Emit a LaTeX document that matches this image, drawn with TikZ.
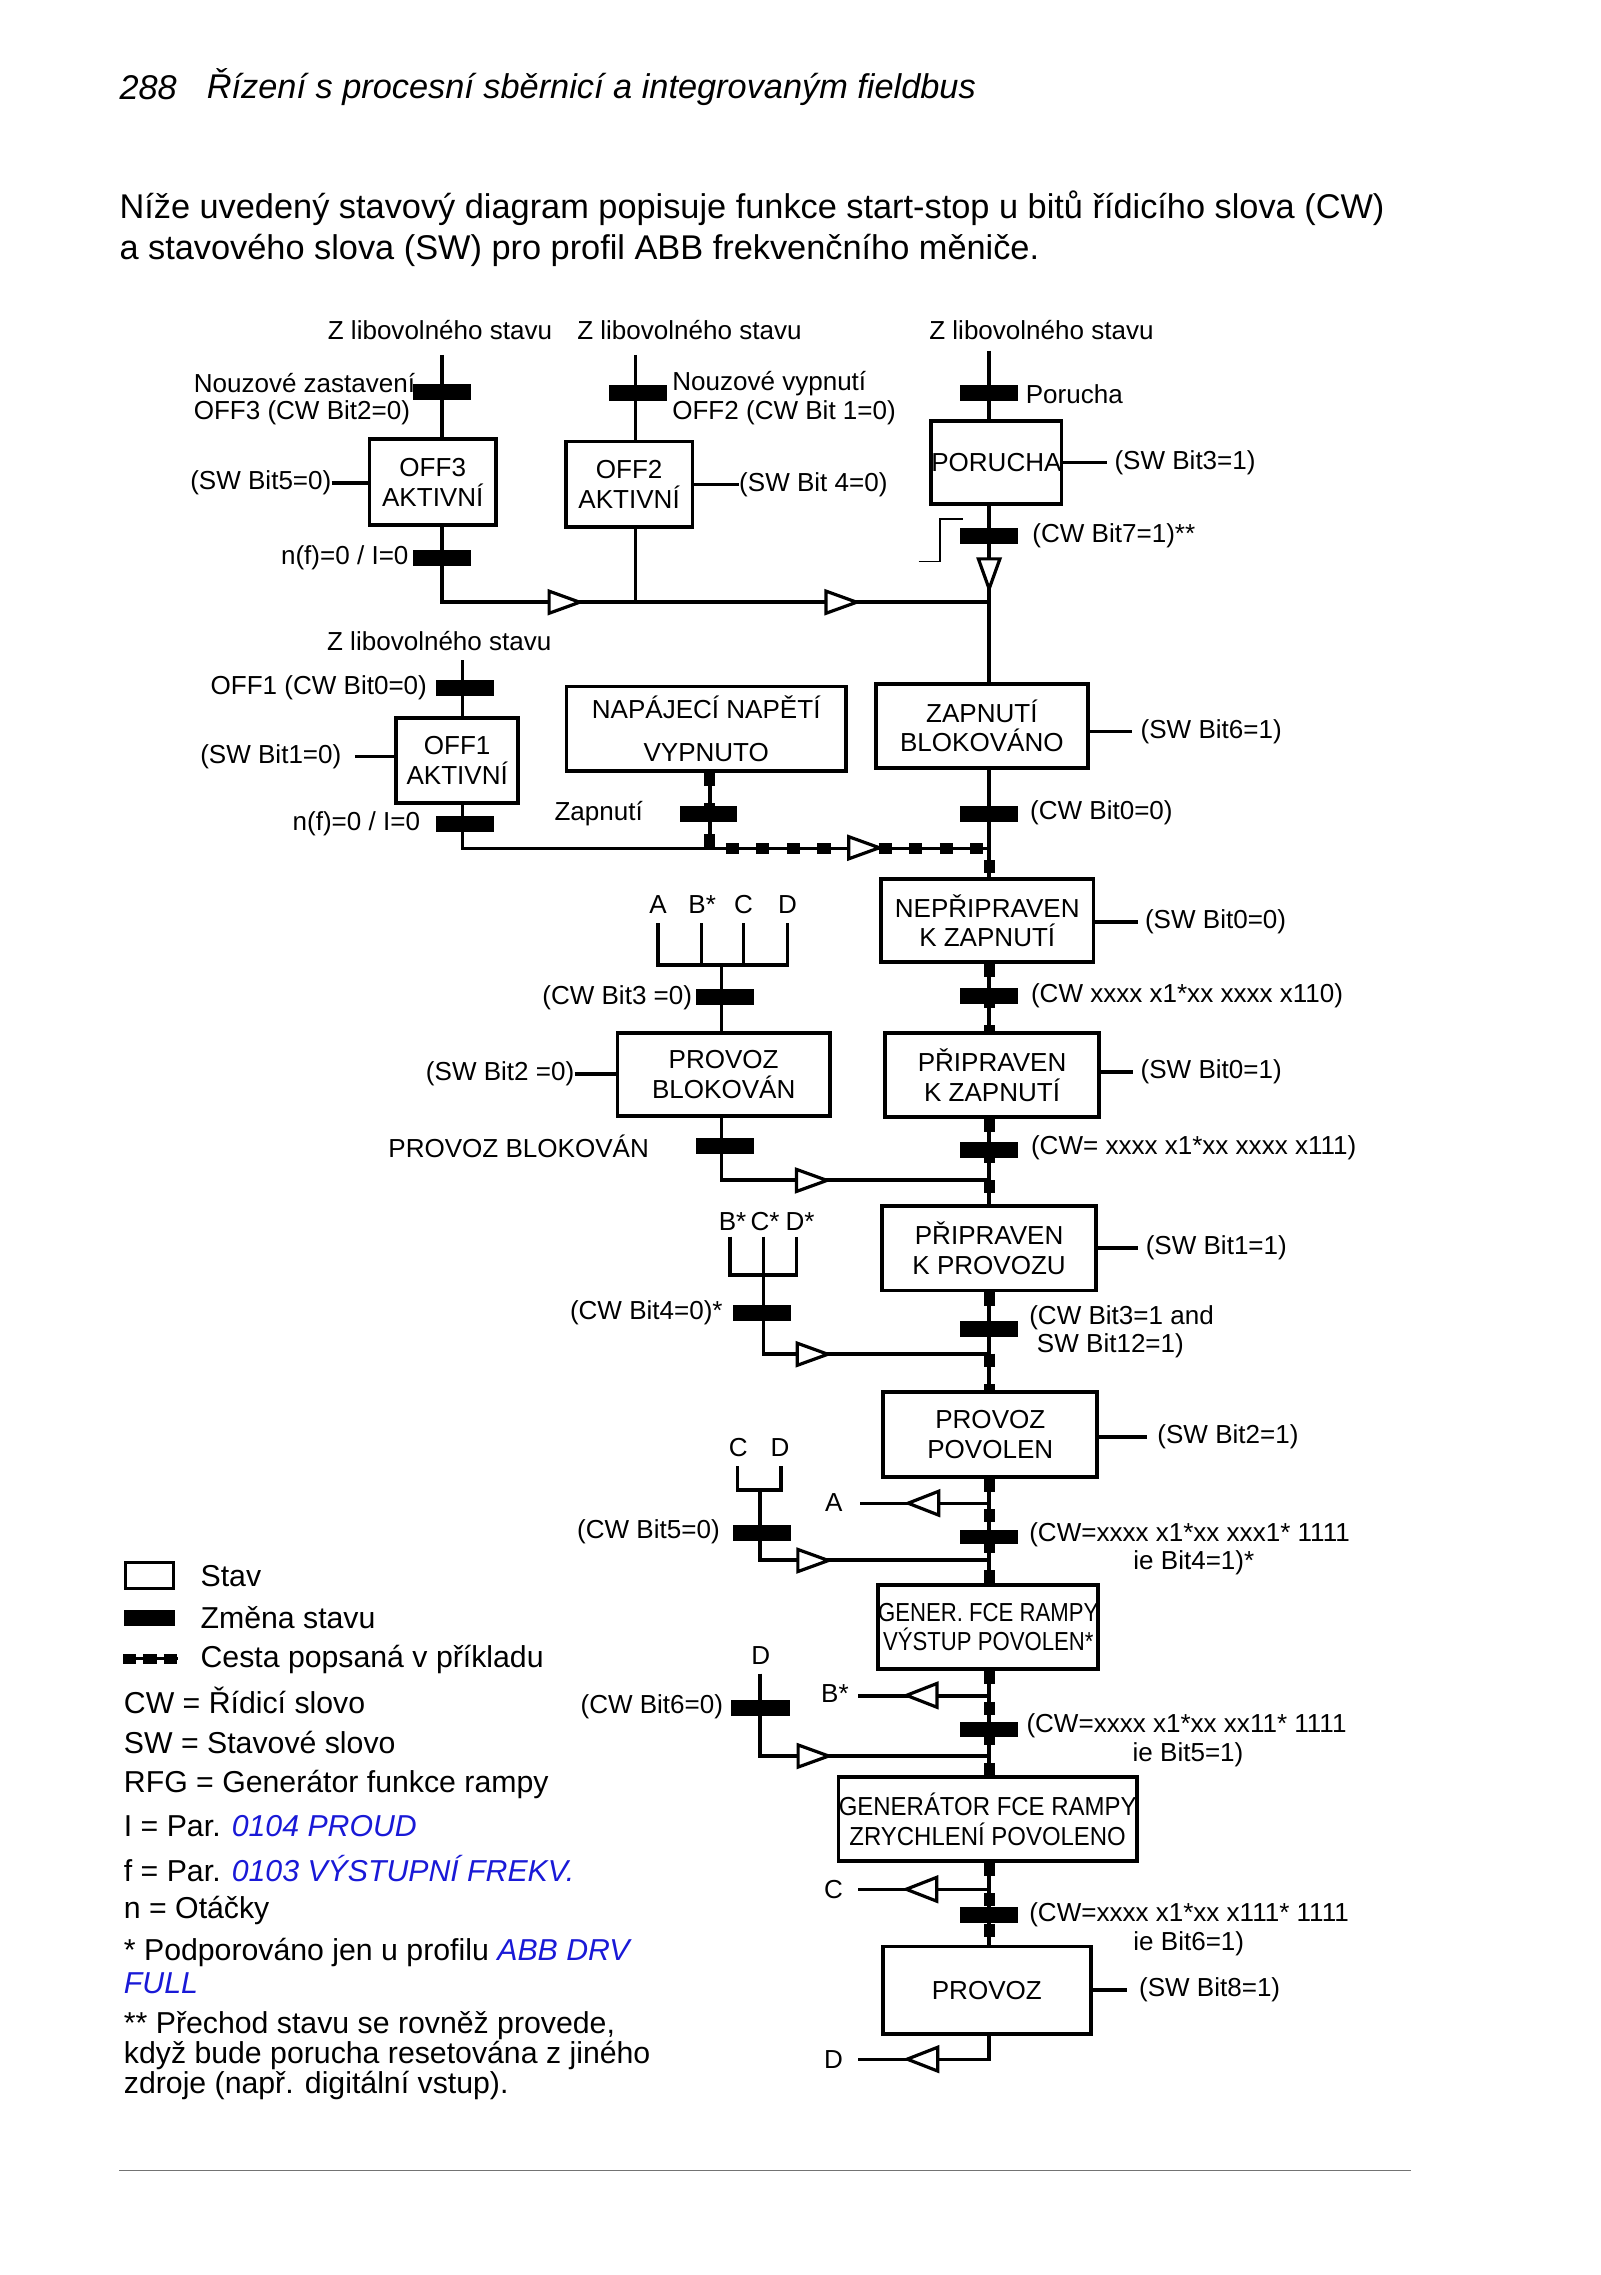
\documentclass[tikz,border=0pt]{standalone}
\usepackage{fontspec}
\setmainfont{Liberation Sans}
\newfontfamily\narrowA[FakeStretch=0.85]{Liberation Sans}
\newfontfamily\narrowB[FakeStretch=0.92]{Liberation Sans}
\definecolor{lnk}{RGB}{25,25,215}
\newcommand\dgfont{\fontsize{17.9}{20.5}\selectfont}
\newcommand\lgfont{\fontsize{20.8}{25}\selectfont}
\newcommand\hdfont{\fontsize{23.6}{29}\selectfont}
\begin{document}
\begin{tikzpicture}[x=1pt,y=-1pt,
  wire/.style={line width=2.4pt},
  exdash/.style={line width=7.5pt, dash pattern=on 9pt off 12pt},
  state/.style={draw, line width=2.6pt, inner sep=0pt, align=center, font=\dgfont},
  bar/.style={fill=black, inner sep=0pt, minimum width=40pt, minimum height=11pt},
  lbl/.style={inner sep=0pt, font=\dgfont},
  lg/.style={inner sep=0pt, anchor=west, font=\lgfont},
  rtri/.pic={\draw[line width=2.2pt, fill=white, line join=miter] (-10.5,-7.6) -- (10.5,0) -- (-10.5,7.6) -- cycle;},
  ltri/.pic={\draw[line width=2.2pt, fill=white, line join=miter] (10.5,-8.2) -- (-10.5,0) -- (10.5,8.2) -- cycle;},
  dtri/.pic={\draw[line width=2.2pt, fill=white, line join=miter] (-7.4,-10.3) -- (0,10.3) -- (7.4,-10.3) -- cycle;}
]
\fill[white] (0,0) rectangle (1100,1564);
\path[use as bounding box] (0,0) rectangle (1100,1564);

% ---------- header and intro ----------
\node[inner sep=0pt, anchor=west, font=\hdfont\itshape] (hnum) at (82,60) {288};
\node[inner sep=0pt, anchor=west, font=\hdfont\itshape] (htitle) at (142,60) {Řízení s procesní sběrnicí a integrovaným fieldbus};
\node[inner sep=0pt, anchor=west, font=\hdfont] (intro1) at (82,143) {Níže uvedený stavový diagram popisuje funkce start-stop u bitů řídicího slova (CW)};
\node[inner sep=0pt, anchor=west, font=\hdfont] (intro2) at (82,172) {a stavového slova (SW) pro profil ABB frekvenčního měniče.};

% ---------- top labels ----------
\node[lbl] (z1) at (302.5,227) {Z libovolného stavu};
\node[lbl] (z2) at (474,227) {Z libovolného stavu};
\node[lbl] (z3) at (716,227) {Z libovolného stavu};

% ---------- column OFF3 ----------
\coordinate (c1top) at (304,244);
\node[state, minimum width=87pt, minimum height=59pt] (off3) at (297.5,331.5) {OFF3\\AKTIVNÍ};
\coordinate (c1bot) at (304,413.7);
\coordinate (hj3) at (680,413.7);
\draw[wire] (c1top) -- (c1top |- off3.north);
\draw[wire] (c1top |- off3.south) -- (c1bot) -- (hj3);
\node[bar] (b31) at (304,269.5) {};
\node[bar] (b32) at (304,383.6) {};
\node[lbl, anchor=west] (lnz) at (133,263.5) {Nouzové zastavení};
\node[lbl, anchor=west] (loff3) at (133,284) {OFF3 (CW Bit2=0)};
\node[lbl, anchor=east] (lsw5) at (228,332) {(SW Bit5=0)};
\draw[wire] (lsw5.east) -- (off3.west |- lsw5.east);
\node[lbl, anchor=east] (lnf1) at (281,383.6) {n(f)=0 / I=0};

% ---------- column OFF2 ----------
\coordinate (c2top) at (437,244);
\coordinate (c2bot) at (437,413.7);
\node[state, minimum width=87pt, minimum height=59pt] (off2) at (432.5,333) {OFF2\\AKTIVNÍ};
\draw[wire] (c2top) -- (c2top |- off2.north);
\draw[wire] (c2top |- off2.south) -- (c2bot);
\node[bar] (b21) at (438.6,270) {};
\node[lbl, anchor=west] (lnv) at (462,263.5) {Nouzové vypnutí};
\node[lbl, anchor=west] (loff2) at (462,284) {OFF2 (CW Bit 1=0)};
\node[lbl, anchor=west] (lsw4) at (508,333) {(SW Bit 4=0)};
\draw[wire] (off2.east |- lsw4.west) -- (lsw4.west);

% ---------- column PORUCHA ----------
\coordinate (c3top) at (680,241);
\node[state, minimum width=86pt, minimum height=57pt] (por) at (685,318) {PORUCHA};
\node[state, minimum width=146pt, minimum height=58pt] (zap) at (675,499) {ZAPNUTÍ\\BLOKOVÁNO};
\coordinate (j583) at (680,583.3);
\draw[wire] (c3top) -- (c3top |- por.north);
\draw[wire] (c3top |- por.south) -- (c3top |- zap.north);
\draw[wire] (c3top |- zap.south) -- (j583);
\node[bar] (b11) at (680,270.5) {};
\node[bar] (b12) at (680,368.5) {};
\node[lbl, anchor=west] (lpor) at (705,271) {Porucha};
\node[lbl, anchor=west] (lsw3) at (766,318) {(SW Bit3=1)};
\draw[wire] (por.east |- lsw3.west) -- ([xshift=-5pt]lsw3.west);
\node[lbl, anchor=west] (lcw7) at (709.6,368) {(CW Bit7=1)**};
\coordinate (st1) at (631.6,386);
\coordinate (st2) at (646,386);
\coordinate (st3) at (646,356.8);
\coordinate (st4) at (662,356.8);
\draw[line width=1.3pt] (st1) -- (st2) -- (st3) -- (st4);
\pic at (680,394.5) {dtri};
\pic at (388,414) {rtri};
\pic at (578.4,414) {rtri};

\node[lbl, anchor=west] (lsw6) at (784,503) {(SW Bit6=1)};
\draw[wire] (zap.east |- lsw6.west) -- ([xshift=-6pt]lsw6.west);
\node[bar] (bcw0) at (680,559.6) {};
\node[lbl, anchor=west] (lcw0) at (708,559) {(CW Bit0=0)};

% ---------- column OFF1 ----------
\node[lbl] (z4) at (302,440.5) {Z libovolného stavu};
\coordinate (c4top) at (318,453.8);
\node[state, minimum width=84pt, minimum height=58pt] (off1) at (314.3,522.8) {OFF1\\AKTIVNÍ};
\coordinate (c4bot) at (318,583.3);
\coordinate (jnap) at (488,583.3);
\draw[wire] (c4top) -- (c4top |- off1.north);
\draw[wire] (c4top |- off1.south) -- (c4bot) -- (jnap);
\node[bar] (b41) at (319.5,473) {};
\node[bar] (b42) at (319.5,566.5) {};
\node[lbl, anchor=west] (loff1) at (144.6,473) {OFF1 (CW Bit0=0)};
\node[lbl, anchor=west] (lsw1) at (137.5,520) {(SW Bit1=0)};
\draw[wire] ([xshift=9pt]lsw1.east) -- (off1.west |- lsw1.east);
\node[lbl, anchor=west] (lnf2) at (201,566) {n(f)=0 / I=0};

% ---------- NAPAJECI ----------
\node[state, minimum width=192pt, minimum height=58pt, font=\fontsize{17.9}{30}\selectfont] (nap) at (485.5,501) {NAPÁJECÍ NAPĚTÍ\\VYPNUTO};
\node[lbl, anchor=west] (lzapn) at (381,559) {Zapnutí};

% ---------- main chain ----------
\node[state, minimum width=146pt, minimum height=57pt] (nep) at (678.7,633) {NEPŘIPRAVEN\\K ZAPNUTÍ};
\node[state, minimum width=147pt, minimum height=58pt] (pzap) at (682,739) {PŘIPRAVEN\\K ZAPNUTÍ};
\node[state, minimum width=147pt, minimum height=58pt] (pprov) at (680,858.2) {PŘIPRAVEN\\K PROVOZU};
\node[state, minimum width=147pt, minimum height=58pt] (ppov) at (680.8,986.2) {PROVOZ\\POVOLEN};
\node[state, minimum width=147pt, minimum height=58pt, font=\narrowA\fontsize{17.9}{19.5}\selectfont] (gen1) at (679.4,1118.6) {GENER. FCE RAMPY\\VÝSTUP POVOLEN*};
\node[state, minimum width=205pt, minimum height=57.5pt, font=\narrowB\fontsize{17.9}{20.7}\selectfont] (gen2) at (679,1250.5) {GENERÁTOR FCE RAMPY\\ZRYCHLENÍ POVOLENO};
\node[state, minimum width=143pt, minimum height=60pt] (prov) at (678.4,1368.2) {PROVOZ};

% example path (dashed)
\foreach \p in {wire, exdash}{
  \draw[\p] (jnap |- nap.south) -- (jnap) -- (j583) -- (j583 |- nep.north);
  \draw[\p] (j583 |- nep.south) -- (j583 |- pzap.north);
  \draw[\p] (j583 |- pzap.south) -- (j583 |- pprov.north);
  \draw[\p] (j583 |- pprov.south) -- (j583 |- ppov.north);
  \draw[\p] (j583 |- ppov.south) -- (j583 |- gen1.north);
  \draw[\p] (j583 |- gen1.south) -- (j583 |- gen2.north);
  \draw[\p] (j583 |- gen2.south) -- (j583 |- prov.north);
}
\node[bar, minimum width=39pt] (bzap) at (487,559.6) {};
\pic at (594,582.8) {rtri};

% labels on the main chain
\node[lbl, anchor=west] (lsw00) at (787,634) {(SW Bit0=0)};
\draw[wire] (nep.east |- lsw00.west) -- ([xshift=-5pt]lsw00.west);
\node[bar] (b110) at (680,684.5) {};
\node[lbl, anchor=west] (l110) at (708.6,684.5) {(CW xxxx x1*xx xxxx x110)};
\node[lbl, anchor=west] (lsw01) at (784,737) {(SW Bit0=1)};
\draw[wire] (pzap.east |- lsw01.west) -- ([xshift=-5pt]lsw01.west);
\node[bar] (b111) at (680,790.3) {};
\node[lbl, anchor=west] (l111) at (708.6,789) {(CW= xxxx x1*xx xxxx x111)};
\node[lbl, anchor=west] (lsw1b) at (787.5,858) {(SW Bit1=1)};
\draw[wire] (pprov.east |- lsw1b.west) -- ([xshift=-5pt]lsw1b.west);
\node[bar] (bb3) at (680,913.6) {};
\node[lbl, anchor=west] (lb3a) at (707.4,906) {(CW Bit3=1 and};
\node[lbl, anchor=west] (lb3b) at (712.7,925.4) {SW Bit12=1)};
\node[lbl, anchor=west] (lsw2b) at (795.5,988) {(SW Bit2=1)};
\draw[wire] (ppov.east |- lsw2b.west) -- ([xshift=-7pt]lsw2b.west);
\node[bar, minimum height=10pt] (bb4) at (680,1056.5) {};
\node[lbl, anchor=west] (lb4a) at (707.4,1055.3) {(CW=xxxx x1*xx xxx1* 1111};
\node[lbl, anchor=west] (lb4b) at (779,1074.4) {ie Bit4=1)*};
\node[bar, minimum height=10.5pt] (bb5) at (680,1188.9) {};
\node[lbl, anchor=west] (lb5a) at (705.5,1186.6) {(CW=xxxx x1*xx xx11* 1111};
\node[lbl, anchor=west] (lb5b) at (778.5,1206.6) {ie Bit5=1)};
\node[bar] (bb6) at (680,1316.8) {};
\node[lbl, anchor=west] (lb6a) at (707.4,1316) {(CW=xxxx x1*xx x111* 1111};
\node[lbl, anchor=west] (lb6b) at (779,1336) {ie Bit6=1)};
\node[lbl, anchor=west] (lsw8) at (782.9,1368.2) {(SW Bit8=1)};
\draw[wire] (prov.east |- lsw8.west) -- ([xshift=-8pt]lsw8.west);

% return branches A, B*, C, D
\node[lbl] (rA) at (573.3,1033) {A};
\coordinate (jA) at (680,1033.6);
\coordinate (eA) at (591.3,1033.6);
\draw[wire] (jA) -- (eA);
\pic at (634.8,1033.4) {ltri};
\node[lbl] (rB) at (574,1164.2) {B*};
\coordinate (jB) at (680,1166);
\coordinate (eB) at (590,1166);
\draw[wire] (jB) -- (eB);
\pic at (633.7,1165.5) {ltri};
\node[lbl] (rC) at (573,1299) {C};
\coordinate (jC) at (680,1299);
\coordinate (eC) at (590,1299);
\draw[wire] (jC) -- (eC);
\pic at (633.5,1298.8) {ltri};
\node[lbl] (rD) at (573,1415.8) {D};
\coordinate (jD) at (680,1415.8);
\coordinate (eD) at (590,1415.8);
\draw[wire] (j583 |- prov.south) -- (jD) -- (eD);
\pic at (634.2,1415.6) {ltri};

% ---------- PROVOZ BLOKOVAN branch ----------
\node[lbl] (kA) at (452.4,622) {A};
\node[lbl] (kB) at (482.7,622) {B*};
\node[lbl] (kC) at (511.1,622) {C};
\node[lbl] (kD) at (541.4,622) {D};
\coordinate (kA1) at (452.4,634.7); \coordinate (kA2) at (452.4,663.5);
\coordinate (kB1) at (482.2,634.7); \coordinate (kB2) at (482.2,663.5);
\coordinate (kC1) at (511.1,634.7); \coordinate (kC2) at (511.1,663.5);
\coordinate (kD1) at (541.4,634.7); \coordinate (kD2) at (541.4,663.5);
\draw[wire] (kA1) -- (kA2) -- (kD2) -- (kD1);
\draw[wire] (kB1) -- (kB2);
\draw[wire] (kC1) -- (kC2);
\node[state, minimum width=146pt, minimum height=57.5pt] (pblok) at (497.5,738.7) {PROVOZ\\BLOKOVÁN};
\coordinate (kc) at (496,663.5);
\coordinate (kbot) at (496,811.3);
\coordinate (kj) at (680,811.3);
\draw[wire] (kc) -- (kc |- pblok.north);
\draw[wire] (kc |- pblok.south) -- (kbot) -- (kj);
\node[bar] (bb3z) at (498.3,685.6) {};
\node[lbl, anchor=east] (lb3z) at (476,685.6) {(CW Bit3 =0)};
\node[lbl, anchor=east] (lsw2z) at (395,738.4) {(SW Bit2 =0)};
\draw[wire] (lsw2z.east) -- (pblok.west |- lsw2z.east);
\node[bar] (bpb) at (498.3,788) {};
\node[lbl, anchor=west] (lpb) at (266.8,788) {PROVOZ BLOKOVÁN};
\pic at (558,811.5) {rtri};

% ---------- CW Bit4 branch ----------
\node[lbl] (mB) at (503.6,840) {B*};
\node[lbl] (mC) at (526,840) {C*};
\node[lbl] (mD) at (550,840) {D*};
\coordinate (mB1) at (501.9,850.2); \coordinate (mB2) at (501.9,876.6);
\coordinate (mC1) at (524.8,850.2); \coordinate (mC2) at (524.8,876.6);
\coordinate (mD1) at (547.7,850.2); \coordinate (mD2) at (547.7,876.6);
\coordinate (mbot) at (524.8,930.9);
\coordinate (mj) at (680,930.9);
\draw[wire] (mB1) -- (mB2) -- (mD2) -- (mD1);
\draw[wire] (mC1) -- (mC2) -- (mbot) -- (mj);
\node[bar] (bm) at (523.8,902.6) {};
\node[lbl, anchor=east] (lm) at (497,902.6) {(CW Bit4=0)*};
\pic at (558.6,931) {rtri};

% ---------- CW Bit5 branch ----------
\node[lbl] (nC) at (507.6,995) {C};
\node[lbl] (nD) at (536.3,995) {D};
\coordinate (nC1) at (507,1008); \coordinate (nC2) at (507,1024.4);
\coordinate (nD1) at (537,1008); \coordinate (nD2) at (537,1024.4);
\coordinate (nc) at (522.5,1024.4);
\coordinate (nbot) at (522.5,1072.5);
\coordinate (nj) at (680,1072.5);
\draw[wire] (nC1) -- (nC2) -- (nD2) -- (nD1);
\draw[wire] (nc) -- (nbot) -- (nj);
\node[bar] (bn) at (523.6,1053.8) {};
\node[lbl, anchor=east] (ln) at (495,1053) {(CW Bit5=0)};
\pic at (559,1072.8) {rtri};

% ---------- CW Bit6 branch ----------
\node[lbl] (pD) at (523,1137.8) {D};
\coordinate (pD1) at (522.5,1150.5);
\coordinate (pbot) at (522.5,1207.3);
\coordinate (pj) at (680,1207.3);
\draw[wire] (pD1) -- (pbot) -- (pj);
\node[bar] (bp) at (522.8,1174.5) {};
\node[lbl, anchor=east] (lp) at (497.3,1173.3) {(CW Bit6=0)};
\pic at (559.2,1207.2) {rtri};

% ---------- legend ----------
\node[draw, line width=2pt, inner sep=0pt, minimum width=33pt, minimum height=18pt] (legbox) at (102.5,1083.3) {};
\node[fill=black, inner sep=0pt, minimum width=35pt, minimum height=11pt] (legbar) at (102.5,1112.5) {};
\coordinate (legd1) at (84.6,1140.3);
\coordinate (legd2) at (122.7,1140.3);
\draw[line width=2.4pt] (legd1) -- (legd2);
\draw[line width=7pt, dash pattern=on 9pt off 5pt] (legd1) -- (legd2);
\node[lg] (t1) at (137.7,1083.2) {Stav};
\node[lg] (t2) at (137.7,1112.1) {Změna stavu};
\node[lg] (t3) at (137.7,1141) {Cesta popsaná v příkladu};
\node[lg] (t4) at (85,1168.7) {CW = Řídicí slovo};
\node[lg] (t5) at (85,1197.6) {SW = Stavové slovo};
\node[lg] (t6) at (85,1226.6) {RFG = Generátor funkce rampy};
\node[lg] (t7) at (85,1255.5) {I = Par. \textcolor{lnk}{\itshape 0104 PROUD}};
\node[lg] (t8) at (85,1284.5) {f = Par. \textcolor{lnk}{\itshape 0103 VÝSTUPNÍ FREKV.}};
\node[lg] (t9) at (85,1313.4) {n = Otáčky};
\node[lg] (t10) at (85,1342.3) {* Podporováno jen u profilu \textcolor{lnk}{\itshape ABB DRV}};
\node[lg] (t11) at (85,1363.4) {\textcolor{lnk}{\itshape FULL}};
\node[lg] (t12) at (85,1392.2) {** Přechod stavu se rovněž provede,};
\node[lg] (t13) at (85,1413.4) {když bude porucha resetována z jiného};
\node[lg] (t14) at (85,1434) {zdroje (např. digitální vstup).};

% bottom rule
\coordinate (r1) at (82,1492);
\coordinate (r2) at (970,1492);
\draw[line width=0.9pt, black!55] (r1) -- (r2);
\end{tikzpicture}
\end{document}
